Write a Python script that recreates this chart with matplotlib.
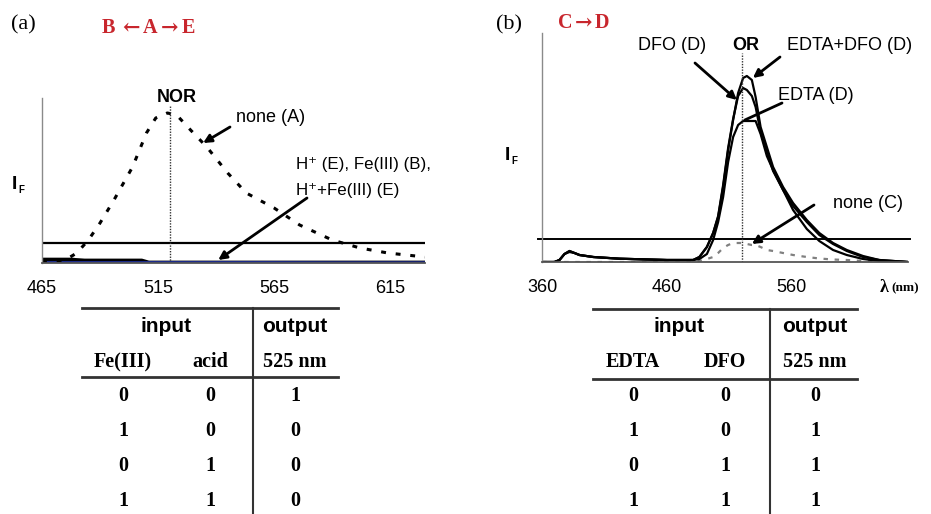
import matplotlib
matplotlib.use("Agg")
import matplotlib.pyplot as plt
from matplotlib.lines import Line2D

# ---- panel (a) data : emission spectra, relative intensity ----
wl_none_a = [465, 470, 475, 480, 485, 490, 496, 504, 510, 514, 519, 523, 529, 536,
             545, 553, 565, 576, 590, 602, 614, 630]
if_none_a = [1, 2, 3, 10, 23, 40, 63, 96, 130, 145, 150, 148, 133, 116,
             90, 70, 55, 38, 23, 15, 10, 6]
wl_quench_a = [465, 470, 478, 490, 500, 508, 511, 530, 560, 590, 630]
if_h_a = [3, 3, 3, 3, 3, 3, 1, 1, 1, 1, 1]
if_hfe_a = [4.5, 4.5, 4.5, 1.5, 1.5, 1.5, 1, 1, 1, 1, 1]
if_fe_a = [0.6, 0.6, 0.6, 0.6, 0.6, 0.6, 0.6, 0.6, 0.6, 0.4, 0.4]
thr_a = 20
nor_wl = 520
xticks_a = [465, 515, 565, 615]

# ---- panel (b) data ----
wl_b = [360, 370, 374, 378, 382, 386, 390, 401, 422, 460, 481, 486, 492, 497, 501,
        505, 509, 513, 517, 521, 524, 528, 531, 535, 540, 545, 553, 561, 572, 582,
        593, 604, 617, 630, 653]
if_edta_dfo = [0, 0, 2, 8, 11, 9, 7, 5, 3.3, 2, 2, 5, 15, 29, 45,
               75, 112, 142, 169, 184, 186, 182, 165, 135, 115, 95, 75, 59, 42, 29,
               19, 12, 6, 2, 0]
if_dfo = [0, 0, 2, 8, 11, 9, 7, 5, 3.3, 2, 2, 5, 15, 29, 46,
          77, 114, 143, 166, 174, 172, 166, 155, 130, 110, 91, 72, 56, 40, 27,
          18, 11, 5, 2, 0]
if_edta = [0, 0, 2, 8, 10, 9, 7, 5, 3.3, 2, 2, 3, 8, 22, 40,
           65, 100, 125, 137, 141, 141, 141, 141, 128, 106, 92, 72, 52, 33, 21,
           12, 7, 3, 1, 0]
if_none_b = [0, 0, 0, 0, 0, 0, 0, 0, 0, 0, 0, 1, 3, 5, 9,
             14, 17, 19, 19, 19, 18, 17, 17, 15, 12, 11, 9, 7, 5, 3.5,
             2.5, 2, 1, 0.5, 0]
thr_b = 23
or_wl = 520
xticks_b = [360, 460, 560]

# ---- truth tables ----
head_a = ["Fe(III)", "acid", "525 nm"]
rows_a = [[0, 0, 1], [1, 0, 0], [0, 1, 0], [1, 1, 0]]
head_b = ["EDTA", "DFO", "525 nm"]
rows_b = [[0, 0, 0], [1, 0, 1], [0, 1, 1], [1, 1, 1]]

W, H = 931, 514
fig = plt.figure(figsize=(W / 100, H / 100), dpi=100)
SANS = ["Liberation Sans", "DejaVu Sans"]
SERIF = ["Liberation Serif", "DejaVu Serif"]
RED = "#c8262d"


def P(x, y):
    return (x / W, 1 - y / H)


def add_ax(left, top, right, bottom):
    ax = fig.add_axes([left / W, 1 - bottom / H, (right - left) / W, (bottom - top) / H])
    for s in ["top", "right"]:
        ax.spines[s].set_visible(False)
    ax.spines["left"].set_color("#8a8a8a")
    ax.spines["bottom"].set_color("#555555")
    ax.spines["left"].set_linewidth(1.0)
    ax.spines["bottom"].set_linewidth(1.3)
    ax.set_yticks([])
    ax.tick_params(axis="x", length=0, pad=12, labelsize=13)
    ax.patch.set_alpha(0)
    return ax


def arrow(ax, xy, xytext, head=True):
    ax.annotate("", xy=xy, xycoords="data", xytext=P(*xytext), textcoords="figure fraction",
                arrowprops=dict(arrowstyle="-|>" if head else "-", color="black", lw=2,
                                mutation_scale=12, shrinkA=0, shrinkB=0))


def red_title(parts, y):
    # letters in serif bold, arrows drawn wider like the original
    for cx, s in parts:
        fam = ["DejaVu Serif"] if s in "\u2190\u2192" else SERIF
        fig.text(*P(cx, y), s, family=fam, fontsize=15 if s in "\u2190\u2192" else 14.5,
                 fontweight="bold", color=RED, ha="center", va="center")


# ---------------- panel (a) ----------------
ax1 = add_ax(42, 98, 425, 263)
ax1.set_xlim(465, 630)
ax1.set_ylim(0, 165)
ax1.plot(wl_quench_a, if_hfe_a, color="black", lw=1.2)
ax1.plot(wl_quench_a, if_h_a, color="black", lw=2)
ax1.plot(wl_quench_a, if_fe_a, color="#1c2b8c", lw=2)
ax1.plot(wl_none_a, if_none_a, color="black", lw=2.2, ls=(0, (1.6, 3.2)))
ax1.axhline(thr_a, color="black", lw=1.6)
ax1.plot([nor_wl, nor_wl], [0, 157], color="#333333", lw=1, ls=(0, (1, 1)))
ax1.set_xticks(xticks_a)
for lb in ax1.get_xticklabels():
    lb.set_family(SANS)

fig.text(*P(11, 25), "(a)", family=SERIF, fontsize=16, va="center", ha="left")
red_title([(108, "B"), (131, "\u2190"), (150, "A"), (170, "\u2192"), (188, "E")], 28)
fig.text(*P(177, 98), "NOR", family=SANS, fontsize=13, fontweight="bold", ha="center", va="center")
fig.text(*P(236, 117), "none (A)", family=SANS, fontsize=13, ha="left", va="center")
fig.text(*P(296, 165), "H\u207a (E), Fe(III) (B),", family=SANS, fontsize=12.2, ha="left", va="center")
fig.text(*P(296, 190), "H\u207a+Fe(III) (E)", family=SANS, fontsize=12.2, ha="left", va="center")
fig.text(*P(12, 184), "I", family=SANS, fontsize=14, fontweight="bold", ha="left", va="center")
fig.text(*P(18.5, 190), "F", family=SANS, fontsize=7, fontweight="bold", ha="left", va="center")
arrow(ax1, (534.4, 120), (230, 127))
arrow(ax1, (540.9, 3), (307, 198))

# ---------------- panel (b) ----------------
ax2 = add_ax(542, 33, 908, 262)
ax2.set_xlim(360, 653)
ax2.set_ylim(0, 229)
ax2.plot(wl_b, if_none_b, color="#808080", lw=1.6, ls=(0, (2, 3)))
ax2.plot(wl_b, if_edta, color="black", lw=1.6)
ax2.plot(wl_b, if_dfo, color="black", lw=1.6)
ax2.plot(wl_b, if_edta_dfo, color="black", lw=1.6)
ax2.axhline(thr_b, xmin=-0.011, xmax=1.005, color="black", lw=1.4, clip_on=False)
ax2.plot([or_wl, or_wl], [0, 209], color="#333333", lw=1, ls=(0, (1, 1)))
ax2.set_xticks(xticks_b)
for lb in ax2.get_xticklabels():
    lb.set_family(SANS)

fig.text(*P(496, 25), "(b)", family=SERIF, fontsize=16, va="center", ha="left")
red_title([(565, "C"), (584, "\u2192"), (602, "D")], 23)
fig.text(*P(746, 46), "OR", family=SANS, fontsize=13, fontweight="bold", ha="center", va="center")
fig.text(*P(638, 45), "DFO (D)", family=SANS, fontsize=13, ha="left", va="center")
fig.text(*P(787, 45), "EDTA+DFO (D)", family=SANS, fontsize=13, ha="left", va="center")
fig.text(*P(778, 96), "EDTA (D)", family=SANS, fontsize=13, ha="left", va="center")
fig.text(*P(833, 204), "none (C)", family=SANS, fontsize=13, ha="left", va="center")
fig.text(*P(505, 155), "I", family=SANS, fontsize=14, fontweight="bold", ha="left", va="center")
fig.text(*P(511.5, 161), "F", family=SANS, fontsize=7, fontweight="bold", ha="left", va="center")
fig.text(*P(880, 287), "\u03bb", family=SERIF, fontsize=13, fontweight="bold", ha="left", va="center")
fig.text(*P(891, 288), "(nm)", family=SERIF, fontsize=9.5, fontweight="bold", ha="left", va="center")
arrow(ax2, (516, 162), (695, 63))
arrow(ax2, (528.8, 184), (780, 57))
arrow(ax2, (522.4, 142), (782, 103), head=False)
arrow(ax2, (528, 18), (814, 205))


# ---------------- truth tables ----------------
def table(x0, x1, xv, cols, top, mid, head, rows):
    fig.add_artist(Line2D([x0 / W, x1 / W], [1 - top / H] * 2, color="#333333", lw=2))
    fig.add_artist(Line2D([x0 / W, x1 / W], [1 - mid / H] * 2, color="#333333", lw=2))
    fig.add_artist(Line2D([xv / W] * 2, [1 - top / H, 0], color="#333333", lw=1.5))
    fig.text(*P((cols[0] + cols[1]) / 2, 327), "input", family=SANS, fontsize=15,
             fontweight="bold", ha="center", va="center")
    fig.text(*P(cols[2], 327), "output", family=SANS, fontsize=15,
             fontweight="bold", ha="center", va="center")
    for cx, h in zip(cols, head):
        fig.text(*P(cx, 362), h, family=SERIF, fontsize=14.5, fontweight="bold",
                 ha="center", va="center")
    for i, row in enumerate(rows):
        for cx, v in zip(cols, row):
            fig.text(*P(cx, 396 + i * 35), str(v), family=SERIF, fontsize=14.5,
                     fontweight="bold", ha="center", va="center")


table(82, 338, 253, [123, 210, 295], 308, 377, head_a, rows_a)
table(593, 857, 770, [633, 725, 815], 309, 379, head_b, rows_b)

fig.savefig("out.png", dpi=100)
